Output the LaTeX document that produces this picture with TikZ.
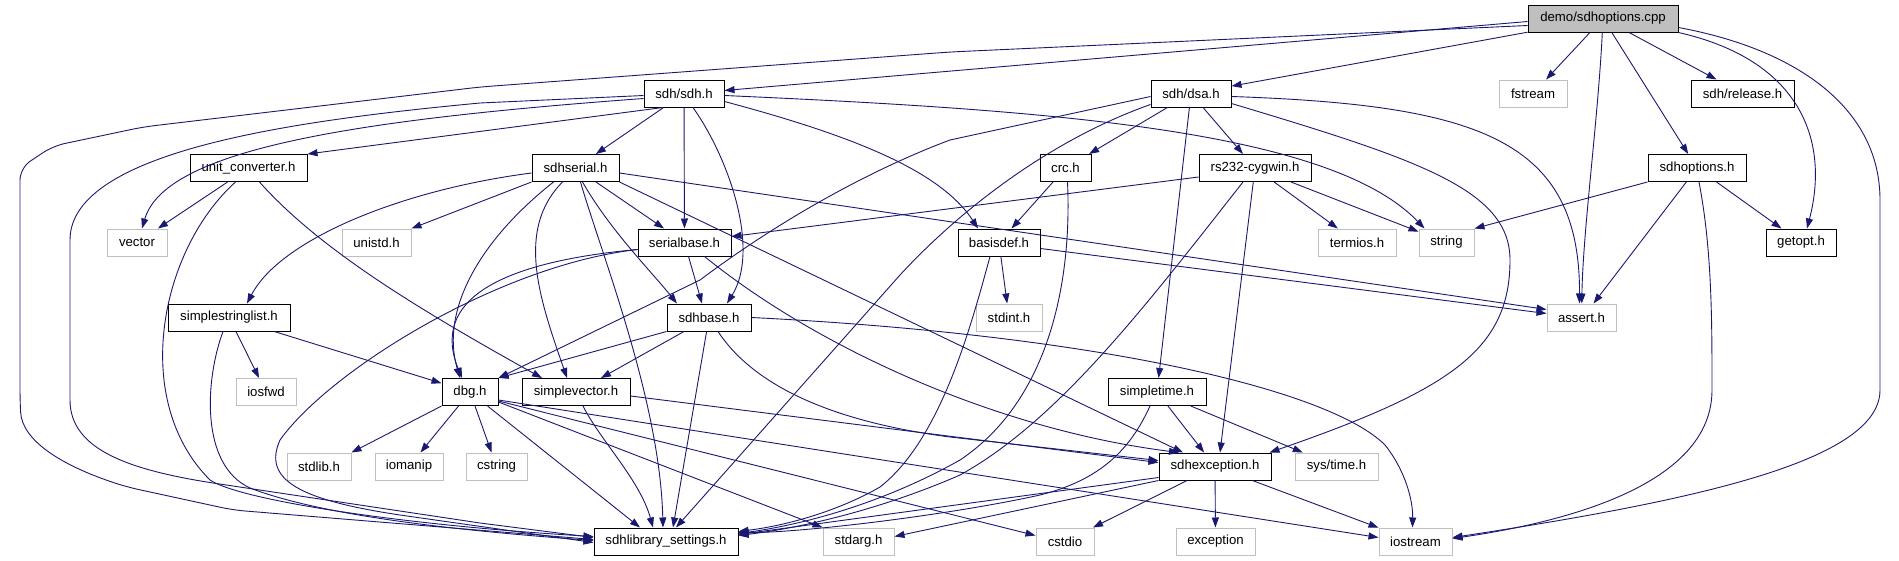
\documentclass[tikz,border=0pt]{standalone}
\usepackage{fontspec}
\setmainfont{Liberation Sans}
\usetikzlibrary{arrows.meta}
\definecolor{edgec}{HTML}{191970}
\definecolor{grayb}{HTML}{BFBFBF}
\tikzset{
  box/.style={draw=black, rectangle, minimum height=27pt, inner sep=0pt, line width=1pt, fill=white,
    font=\fontsize{13.2}{15}\selectfont, text=black},
  sys/.style={box, draw=grayb},
  edge/.style={draw=edgec, line width=0.9pt, -{Triangle[length=10pt,width=7pt]}},
}
\begin{document}
\begin{tikzpicture}[x=1pt,y=-1pt]
\useasboundingbox (0,0) rectangle (1899,560);
% row 0
\node[box, fill=grayb, minimum width=150pt] (cpp) at (1603,18.5) {demo/sdhoptions.cpp};
% row 1
\node[box, minimum width=80pt] (sdh) at (684,93.5) {sdh/sdh.h};
\node[box, minimum width=80pt] (dsa) at (1191,93.5) {sdh/dsa.h};
\node[sys, minimum width=68pt] (fstream) at (1533,93.5) {fstream};
\node[box, minimum width=103pt] (release) at (1742.5,93.5) {sdh/release.h};
% row 2
\node[box, minimum width=117pt] (unitconv) at (248.5,168) {unit\_converter.h};
\node[box, minimum width=87pt] (sdhserial) at (575.5,168) {sdhserial.h};
\node[box, minimum width=51pt] (crc) at (1065.5,168) {crc.h};
\node[box, minimum width=112pt] (rs232) at (1255,168) {rs232-cygwin.h};
\node[box, minimum width=98pt] (sdhoptions) at (1697,168) {sdhoptions.h};
% row 3
\node[sys, minimum width=60pt] (vector) at (137,242.5) {vector};
\node[sys, minimum width=69pt] (unistd) at (376.5,242.5) {unistd.h};
\node[box, minimum width=93pt] (serialbase) at (684.5,242.5) {serialbase.h};
\node[box, minimum width=82pt] (basisdef) at (999,242.5) {basisdef.h};
\node[sys, minimum width=78pt] (termios) at (1357,242.5) {termios.h};
\node[sys, minimum width=55pt] (string) at (1446.5,242.5) {string};
\node[box, minimum width=70pt] (getopt) at (1801,242.5) {getopt.h};
% row 4
\node[box, minimum width=122pt] (simplestringlist) at (229,317.5) {simplestringlist.h};
\node[box, minimum width=84pt] (sdhbase) at (709,317.5) {sdhbase.h};
\node[sys, minimum width=66pt] (stdint) at (1009,317.5) {stdint.h};
\node[sys, minimum width=69pt] (assert) at (1581.5,317.5) {assert.h};
% row 5
\node[sys, minimum width=60pt] (iosfwd) at (266,392) {iosfwd};
\node[box, minimum width=56pt] (dbg) at (470,392) {dbg.h};
\node[box, minimum width=108pt] (simplevector) at (576,392) {simplevector.h};
\node[box, minimum width=98pt] (simpletime) at (1157,392) {simpletime.h};
% row 6
\node[sys, minimum width=64pt] (stdlib) at (319,466.5) {stdlib.h};
\node[sys, minimum width=68pt] (iomanip) at (409,466.5) {iomanip};
\node[sys, minimum width=61pt] (cstring) at (496.5,466.5) {cstring};
\node[box, minimum width=112pt] (sdhexception) at (1215,466.5) {sdhexception.h};
\node[sys, minimum width=83pt] (systime) at (1336.5,466.5) {sys/time.h};
% row 7
\node[box, minimum width=144pt] (settings) at (666,541.5) {sdhlibrary\_settings.h};
\node[sys, minimum width=71pt] (stdarg) at (858.5,541.5) {stdarg.h};
\node[sys, minimum width=58pt] (cstdio) at (1065,541.5) {cstdio};
\node[sys, minimum width=79pt] (exception) at (1215.5,541.5) {exception};
\node[sys, minimum width=73pt] (iostream) at (1415.5,541.5) {iostream};

% ---- edges from demo/sdhoptions.cpp
\draw[edge] ([yshift=-3pt]cpp.west) -- ([yshift=3pt]sdh.east);
\draw[edge, rounded corners=12pt] ([yshift=-7pt]cpp.west) -- (950,52) -- (480,87) -- (143,127) -- (53,146) -- (20,168) -- (20,400) .. controls (22,440) and (60,465) .. (127,487) -- (233,510) -- ([yshift=2pt]settings.west);
\draw[edge] (cpp) -- (dsa);
\draw[edge] (cpp) -- (fstream);
\draw[edge] (cpp) .. controls (1598,120) and (1583,230) .. (assert);
\draw[edge] (cpp) -- (sdhoptions);
\draw[edge] (cpp) -- (release);
\draw[edge] (cpp.south east) .. controls (1800,60) and (1830,140) .. ([xshift=6pt]getopt.north);
\draw[edge] ([yshift=-9pt]cpp.east) .. controls (1800,50) and (1880,110) .. (1880,200) -- (1880,390) .. controls (1880,460) and (1700,500) .. ([yshift=4pt]iostream.east);

% ---- sdh/sdh.h
\draw[edge] ([xshift=-21pt]sdh.south) -- (unitconv.north east);
\draw[edge] ([yshift=-5pt]sdh.west) .. controls (350,120) and (165,150) .. ([xshift=5pt]vector.north);
\draw[edge] ([yshift=-2pt]sdh.west) -- (480,103) .. controls (300,120) and (70,150) .. (70,240) -- (70,400) .. controls (70,450) and (130,470) .. (213,483) -- (480,523) -- ([yshift=4pt]settings.west);
\draw[edge] (sdh) -- (sdhserial);
\draw[edge] (sdh) -- (serialbase);
\draw[edge] ([xshift=9pt]sdh.south) .. controls (730,160) and (760,250) .. ([xshift=18pt]sdhbase.north);
\draw[edge] ([yshift=-8pt]sdh.east) .. controls (850,135) and (940,170) .. ([xshift=-21pt]basisdef.north);
\draw[edge] ([yshift=-2pt]sdh.east) .. controls (1050,110) and (1330,130) .. ([xshift=-22pt]string.north);

% ---- sdh/dsa.h
\draw[edge] (dsa) -- (crc);
\draw[edge] (dsa) -- (rs232);
\draw[edge] (dsa) -- (simpletime);
\draw[edge] ([yshift=-3pt]dsa.east) .. controls (1480,105) and (1580,140) .. ([xshift=-2pt]assert.north);
\draw[edge] ([yshift=-10pt]dsa.east) .. controls (1420,160) and (1510,190) .. (1510,260) .. controls (1510,350) and (1450,390) .. ([xshift=-2pt]sdhexception.north east);
\draw[edge] ([yshift=-3pt]dsa.west) -- (950,140) .. controls (870,170) and (780,220) .. (700,280) -- (dbg.north east);
\draw[edge] ([yshift=-11pt]dsa.west) .. controls (1050,140) and (960,210) .. (900,275) -- ([xshift=10pt]settings.north);

% ---- unit_converter.h
\draw[edge] (unitconv) -- (vector);
\draw[edge] ([xshift=-13pt]unitconv.south) .. controls (160,250) and (130,400) .. (210,480) .. controls (240,500) and (400,525) .. ([yshift=5pt]settings.west);
\draw[edge] ([xshift=11pt]unitconv.south) .. controls (320,250) and (420,310) .. ([xshift=-34pt]simplevector.north);

% ---- sdhserial.h
\draw[edge] ([yshift=-5pt]sdhserial.west) .. controls (400,190) and (280,240) .. ([xshift=18pt]simplestringlist.north);
\draw[edge] (sdhserial.south west) -- (unistd.north east);
\draw[edge] ([xshift=-22pt]sdhserial.south) .. controls (480,240) and (440,310) .. ([xshift=-10pt]dbg.north);
\draw[edge] ([xshift=-13pt]sdhserial.south) .. controls (515,230) and (540,300) .. ([xshift=-9pt]simplevector.north);
\draw[edge] ([xshift=5pt]sdhserial.south) .. controls (600,250) and (660,400) .. ([xshift=-3pt]settings.north);
\draw[edge] ([xshift=7pt]sdhserial.south) .. controls (610,230) and (650,270) .. ([xshift=-32pt]sdhbase.north);
\draw[edge] (sdhserial) -- (serialbase);
\draw[edge] (sdhserial.south east) -- ([xshift=-32pt]sdhexception.north);
\draw[edge] ([yshift=-5pt]sdhserial.east) -- ([yshift=8pt]assert.west);

% ---- crc.h
\draw[edge] (crc) -- (basisdef);
\draw[edge] ([xshift=2pt]crc.south) .. controls (1072,280) and (1050,400) .. (960,460) .. controls (880,505) and (800,525) .. ([yshift=8pt]settings.east);

% ---- rs232-cygwin.h
\draw[edge] ([yshift=-9pt]rs232.west) -- ([yshift=6pt]serialbase.east);
\draw[edge] ([xshift=-12pt]rs232.south) .. controls (1150,300) and (1060,420) .. (960,475) .. controls (880,510) and (800,528) .. ([yshift=6pt]settings.east);
\draw[edge] (rs232) -- ([xshift=5pt]sdhexception.north);
\draw[edge] (rs232) -- (termios);
\draw[edge] (rs232) -- (string);

% ---- sdhoptions.h
\draw[edge] (sdhoptions.south west) -- (string.north east);
\draw[edge] (sdhoptions) -- ([xshift=12pt]assert.north);
\draw[edge] ([xshift=2pt]sdhoptions.south) .. controls (1712,250) and (1712,320) .. (1712,390) .. controls (1712,480) and (1580,520) .. ([yshift=3pt]iostream.east);
\draw[edge] (sdhoptions) -- (getopt);

% ---- serialbase.h
\draw[edge] ([yshift=-7pt]serialbase.west) .. controls (500,262) and (430,300) .. ([xshift=-8pt]dbg.north);
\draw[edge] ([yshift=-7pt]serialbase.west) .. controls (500,265) and (330,370) .. (280,440) .. controls (262,480) and (300,500) .. (400,515) -- ([yshift=-1pt]settings.west);
\draw[edge] (serialbase) -- ([xshift=-7pt]sdhbase.north);
\draw[edge] ([xshift=20pt]serialbase.south) .. controls (820,350) and (1000,430) .. ([xshift=-36pt]sdhexception.north);

% ---- basisdef.h
\draw[edge] (basisdef) -- (stdint);
\draw[edge] ([xshift=-9pt]basisdef.south) .. controls (970,330) and (940,440) .. (880,487) .. controls (840,510) and (790,525) .. ([yshift=10pt]settings.east);
\draw[edge] ([yshift=-6pt]basisdef.east) -- ([yshift=4pt]assert.west);

% ---- simplestringlist.h
\draw[edge] (simplestringlist) -- (iosfwd);
\draw[edge] (simplestringlist) -- (dbg);
\draw[edge] ([xshift=-6pt]simplestringlist.south) .. controls (205,380) and (200,465) .. (250,488) .. controls (320,515) and (450,530) .. ([yshift=1pt]settings.west);

% ---- sdhbase.h
\draw[edge] (sdhbase.south west) -- (dbg.north east);
\draw[edge] (sdhbase) -- (simplevector);
\draw[edge] (sdhbase) -- ([xshift=7pt]settings.north);
\draw[edge] ([xshift=9pt]sdhbase.south) .. controls (750,380) and (820,420) .. (950,437) -- ([yshift=6pt]sdhexception.west);
\draw[edge] (sdhbase.east) .. controls (1100,335) and (1330,390) .. (1385,445) .. controls (1405,470) and (1413,500) .. ([xshift=-3pt]iostream.north);

% ---- dbg.h
\draw[edge] (dbg.south west) -- (stdlib.north east);
\draw[edge] (dbg) -- (iomanip);
\draw[edge] (dbg) -- (cstring);
\draw[edge] (dbg) -- ([xshift=-26pt]settings.north);
\draw[edge] ([yshift=-10pt]dbg.east) -- (stdarg.north west);
\draw[edge] ([yshift=-9pt]dbg.east) -- ([yshift=6pt]cstdio.west);
\draw[edge] ([yshift=-8pt]dbg.east) -- ([yshift=4pt]iostream.west);

% ---- simplevector.h
\draw[edge] (simplevector) .. controls (600,440) and (640,480) .. ([xshift=-13pt]settings.north);
\draw[edge] ([yshift=-4pt]simplevector.east) -- ([yshift=4pt]sdhexception.west);

% ---- simpletime.h
\draw[edge] ([xshift=-7pt]simpletime.south) .. controls (1130,450) and (1100,480) .. (1040,495) .. controls (950,515) and (800,533) .. ([yshift=9pt]settings.east);
\draw[edge] (simpletime) -- (sdhexception);
\draw[edge] (simpletime) -- (systime);

% ---- sdhexception.h
\draw[edge] ([yshift=-11pt]sdhexception.west) -- ([yshift=7pt]settings.east);
\draw[edge] (sdhexception.south west) -- ([yshift=5pt]stdarg.east);
\draw[edge] (sdhexception) -- (cstdio);
\draw[edge] (sdhexception) -- (exception);
\draw[edge] (sdhexception) -- (iostream);
\end{tikzpicture}
\end{document}
